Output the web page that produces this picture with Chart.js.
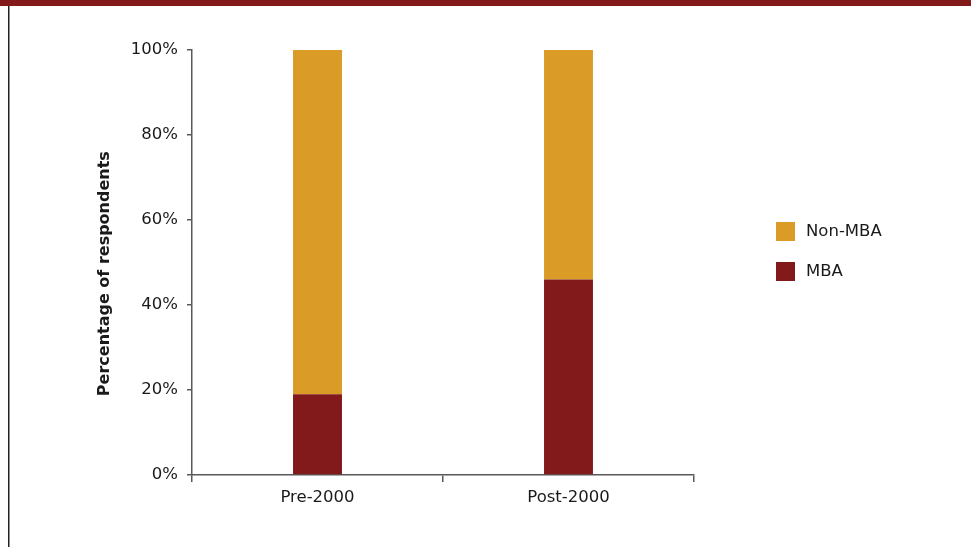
<!DOCTYPE html>
<html>
<head>
<meta charset="utf-8">
<script src="https://cdn.jsdelivr.net/npm/chart.js@4/dist/chart.umd.min.js"></script>
<style>
  html, body { margin: 0; padding: 0; background: #ffffff; }
  #wrap { width: 971px; height: 547px; }
</style>
</head>
<body>
<div id="wrap"><canvas id="c" width="971" height="547"></canvas></div>
<script>
const categories = ['Pre-2000', 'Post-2000'];
const mbaValues = [19, 46];
const nonMbaValues = [81, 54];
const yTickValues = [0, 20, 40, 60, 80, 100];
const seriesLabels = ['MBA', 'Non-MBA'];
const yAxisTitle = 'Percentage of respondents';

const RED = '#821A1C';
const GOLD = '#DB9B27';
const AXIS = '#595959';
const TEXT = '#1a1a1a';
const FONT = 'DejaVu Sans';

const framePlugin = {
  id: 'frame',
  beforeDraw(chart) {
    const ctx = chart.ctx;
    ctx.save();
    ctx.fillStyle = '#ffffff';
    ctx.fillRect(0, 0, chart.width, chart.height);
    ctx.fillStyle = RED;
    ctx.fillRect(0, 0, chart.width, 6);
    ctx.fillStyle = '#222222';
    ctx.fillRect(8, 6, 1.5, chart.height - 6);
    ctx.restore();
  }
};

const legendPlugin = {
  id: 'sideLegend',
  afterDraw(chart) {
    const ctx = chart.ctx;
    const ds = chart.data.datasets.slice().reverse();
    ctx.save();
    ctx.font = '16.5px "' + FONT + '"';
    ctx.textBaseline = 'middle';
    ctx.textAlign = 'left';
    ds.forEach((d, i) => {
      const cy = 231.5 + i * 40;
      ctx.fillStyle = d.backgroundColor;
      ctx.fillRect(776, cy - 9.5, 19, 19);
      ctx.fillStyle = TEXT;
      ctx.fillText(d.label, 806, cy);
    });
    ctx.restore();
  }
};

new Chart(document.getElementById('c'), {
  type: 'bar',
  data: {
    labels: categories,
    datasets: [
      { label: seriesLabels[0], data: mbaValues, backgroundColor: RED, borderWidth: 0 },
      { label: seriesLabels[1], data: nonMbaValues, backgroundColor: GOLD, borderWidth: 0 }
    ]
  },
  options: {
    responsive: false,
    animation: false,
    devicePixelRatio: 1,
    layout: { padding: { top: 50, right: 277, bottom: 0, left: 0 } },
    datasets: { bar: { categoryPercentage: 1, barPercentage: 0.195 } },
    plugins: {
      legend: { display: false },
      tooltip: { enabled: false }
    },
    scales: {
      x: {
        stacked: true,
        grid: { offset: true, drawOnChartArea: false, drawTicks: true, tickLength: 7, color: AXIS, lineWidth: 1.5 },
        border: { display: true, color: AXIS, width: 1.5 },
        ticks: { color: TEXT, font: { family: FONT, size: 16.5 }, padding: 6, maxRotation: 0 },
        afterFit(s) { s.height = 72; }
      },
      y: {
        stacked: true,
        min: 0,
        max: 100,
        afterBuildTicks(s) { s.ticks = yTickValues.map(v => ({ value: v })); },
        grid: { drawOnChartArea: false, drawTicks: true, tickLength: 5, color: AXIS, lineWidth: 1.5 },
        border: { display: true, color: AXIS, width: 1.5 },
        ticks: { color: TEXT, font: { family: FONT, size: 16.5 }, padding: 9, callback: v => v + '%' },
        title: {
          display: true,
          text: yAxisTitle + '    ',
          color: TEXT,
          font: { family: FONT, size: 16, weight: 'bold' },
          padding: { top: 95, bottom: 4 }
        },
        afterFit(s) { s.width = 192; }
      }
    }
  },
  plugins: [framePlugin, legendPlugin]
});
</script>
</body>
</html>
